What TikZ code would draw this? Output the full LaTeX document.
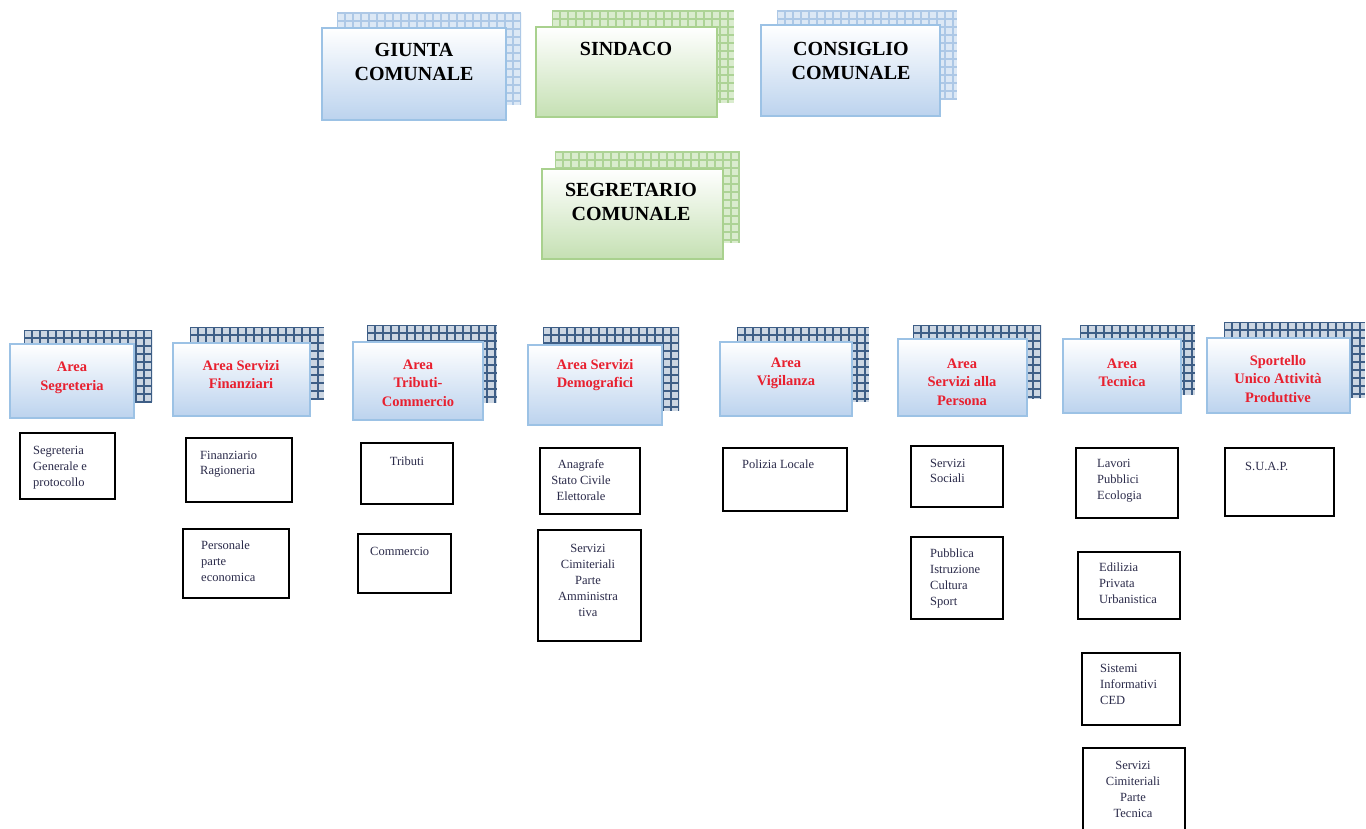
\documentclass[tikz,border=0pt]{standalone}
\usepackage{fontspec}
\setmainfont{Liberation Serif}
\definecolor{bluefill}{HTML}{BCD3EE}
\definecolor{blueedge}{HTML}{9CC2E5}
\definecolor{greenfill}{HTML}{C5E0B3}
\definecolor{greenedge}{HTML}{A9D18E}
\definecolor{gbluebg}{HTML}{DCE8F5}
\definecolor{gblueln}{HTML}{ADC8E6}
\definecolor{ggreenbg}{HTML}{DAECCE}
\definecolor{ggreenln}{HTML}{ADD396}
\definecolor{gnavybg}{HTML}{CCD6E2}
\definecolor{gnavyln}{HTML}{3E5E86}
\definecolor{areared}{HTML}{E8202F}
\definecolor{smalltext}{HTML}{2B2B4A}
\tikzset{
  bluebox/.style={draw=blueedge, line width=1.5pt, top color=white, bottom color=bluefill, inner sep=0pt},
  greenbox/.style={draw=greenedge, line width=1.5pt, top color=white, bottom color=greenfill, inner sep=0pt},
  smallbox/.style={draw=black, line width=2.2pt, fill=white, inner sep=0pt},
  gblue/.style={draw=gblueln, line width=1.1pt},
  ggreen/.style={draw=ggreenln, line width=1.1pt},
  gnavy/.style={draw=gnavyln, line width=1.7pt},
  headtext/.style={font=\bfseries\fontsize{20}{24}\selectfont, align=center, inner sep=0pt, text=black},
  areatext/.style={font=\bfseries\fontsize{14.5}{18.5}\selectfont, align=center, inner sep=0pt, text=areared},
  smalltextL/.style={font=\fontsize{12.5}{16}\selectfont, align=left, inner sep=0pt, text=smalltext, anchor=north west},
  smalltextC/.style={font=\fontsize{12.5}{16}\selectfont, align=center, inner sep=0pt, text=smalltext, anchor=north}
}
\newcommand\orgbox[6]{%
  \pgfmathsetmacro\bw{#5-#3}\pgfmathsetmacro\bh{#6-#4}%
  \node[#1, minimum width=\bw pt, minimum height=\bh pt] (#2) at ({(#3+#5)/2},{(#4+#6)/2}) {};}
\newcommand\gridback[6]{%
  \begin{scope}
    \clip (#3,#4) rectangle (#5,#6);
    \fill[#1] (#3,#4) rectangle (#5,#6);
    \foreach \gx in {0,8,...,200} \draw[#2] (#3+\gx,#4) -- (#3+\gx,#6);
    \foreach \gy in {0,8,...,120} \draw[#2] (#3,#4+\gy) -- (#5,#4+\gy);
  \end{scope}}
\begin{document}
\begin{tikzpicture}[x=1pt,y=-1pt]
\useasboundingbox (0,0) rectangle (1366,829);
\fill[white] (0,0) rectangle (1366,829);
\clip (0,0) rectangle (1366,829);

% ---- top row ----
\gridback{gbluebg}{gblue}{337}{13}{521}{105}
\orgbox{bluebox}{giunta}{322}{28}{506}{120}
\node[headtext] (giuntaT) at (414,62) {GIUNTA\\COMUNALE};

\gridback{ggreenbg}{ggreen}{552}{11}{734}{103}
\orgbox{greenbox}{sindaco}{536}{27}{717}{117}
\node[headtext] (sindacoT) at (626,49) {SINDACO};

\gridback{gbluebg}{gblue}{777}{11}{957}{100}
\orgbox{bluebox}{consiglio}{761}{25}{940}{116}
\node[headtext] (consiglioT) at (851,61) {CONSIGLIO\\COMUNALE};

\gridback{ggreenbg}{ggreen}{555}{152}{740}{243}
\orgbox{greenbox}{segretario}{542}{169}{723}{259}
\node[headtext] (segretarioT) at (631,202) {SEGRETARIO\\COMUNALE};

% ---- area row ----
\gridback{gnavybg}{gnavy}{24}{330}{152}{402}
\orgbox{bluebox}{aseg}{10}{344}{134}{418}
\node[areatext] (asegT) at (72,378) {Area\\Segreteria};

\gridback{gnavybg}{gnavy}{190}{327}{324}{399}
\orgbox{bluebox}{afin}{173}{343}{310}{416}
\node[areatext] (afinT) at (241,374.5) {Area Servizi\\Finanziari};

\gridback{gnavybg}{gnavy}{367}{325}{497}{403}
\orgbox{bluebox}{atrib}{353}{342}{483}{420}
\node[areatext] (atribT) at (418,383) {Area\\Tributi-\\Commercio};

\gridback{gnavybg}{gnavy}{543}{327}{679}{411}
\orgbox{bluebox}{ademo}{528}{345}{662}{425}
\node[areatext] (ademoT) at (595,375) {Area Servizi\\Demografici};

\gridback{gnavybg}{gnavy}{737}{327}{869}{402}
\orgbox{bluebox}{avig}{720}{342}{852}{416}
\node[areatext] (avigT) at (786,373.5) {Area\\Vigilanza};

\gridback{gnavybg}{gnavy}{913}{325}{1041}{399}
\orgbox{bluebox}{apers}{898}{339}{1027}{416}
\node[areatext] (apersT) at (962,382) {Area\\Servizi alla\\Persona};

\gridback{gnavybg}{gnavy}{1080}{325}{1195}{395}
\orgbox{bluebox}{atec}{1063}{339}{1181}{413}
\node[areatext] (atecT) at (1122,373) {Area\\Tecnica};

\gridback{gnavybg}{gnavy}{1224}{322}{1365}{398}
\orgbox{bluebox}{aspo}{1207}{338}{1350}{413}
\node[areatext] (aspoT) at (1278,379) {Sportello\\Unico Attività\\Produttive};

% ---- small boxes ----
\orgbox{smallbox}{sseg}{20}{433}{115}{499}
\node[smalltextL] (ssegT) at (33,446.5) {Segreteria\\Generale e\\protocollo};

\orgbox{smallbox}{sfin}{186}{438}{292}{502}
\node[smalltextL, font=\fontsize{12.5}{15}\selectfont] (sfinT) at (200,451.5) {Finanziario\\Ragioneria};

\orgbox{smallbox}{spers}{183}{529}{289}{598}
\node[smalltextL] (spersT) at (201,540.5) {Personale\\parte\\economica};

\orgbox{smallbox}{strib}{361}{443}{453}{504}
\node[smalltextC] (stribT) at (407,456.5) {Tributi};

\orgbox{smallbox}{scomm}{358}{534}{451}{593}
\node[smalltextL] (scommT) at (370,547.5) {Commercio};

\orgbox{smallbox}{sanag}{540}{448}{640}{514}
\node[smalltextC] (sanagT) at (581,459.5) {Anagrafe\\Stato Civile\\Elettorale};

\orgbox{smallbox}{scima}{538}{530}{641}{641}
\node[smalltextC] (scimaT) at (588,544.5) {Servizi\\Cimiteriali\\Parte\\Amministra\\tiva};

\orgbox{smallbox}{spol}{723}{448}{847}{511}
\node[smalltextL] (spolT) at (742,459.5) {Polizia Locale};

\orgbox{smallbox}{ssoc}{911}{446}{1003}{507}
\node[smalltextL, font=\fontsize{12.5}{15}\selectfont] (ssocT) at (930,459.5) {Servizi\\Sociali};

\orgbox{smallbox}{spub}{911}{537}{1003}{619}
\node[smalltextL] (spubT) at (930,548.5) {Pubblica\\Istruzione\\Cultura\\Sport};

\orgbox{smallbox}{slav}{1076}{448}{1178}{518}
\node[smalltextL] (slavT) at (1097,459.5) {Lavori\\Pubblici\\Ecologia};

\orgbox{smallbox}{ssuap}{1225}{448}{1334}{516}
\node[smalltextL] (ssuapT) at (1245,462.5) {S.U.A.P.};

\orgbox{smallbox}{sedil}{1078}{552}{1180}{619}
\node[smalltextL] (sedilT) at (1099,562.5) {Edilizia\\Privata\\Urbanistica};

\orgbox{smallbox}{ssist}{1082}{653}{1180}{725}
\node[smalltextL] (ssistT) at (1100,664.5) {Sistemi\\Informativi\\CED};

\orgbox{smallbox}{scimt}{1083}{748}{1185}{850}
\node[smalltextC] (scimtT) at (1133,761.5) {Servizi\\Cimiteriali\\Parte\\Tecnica};
\end{tikzpicture}
\end{document}
